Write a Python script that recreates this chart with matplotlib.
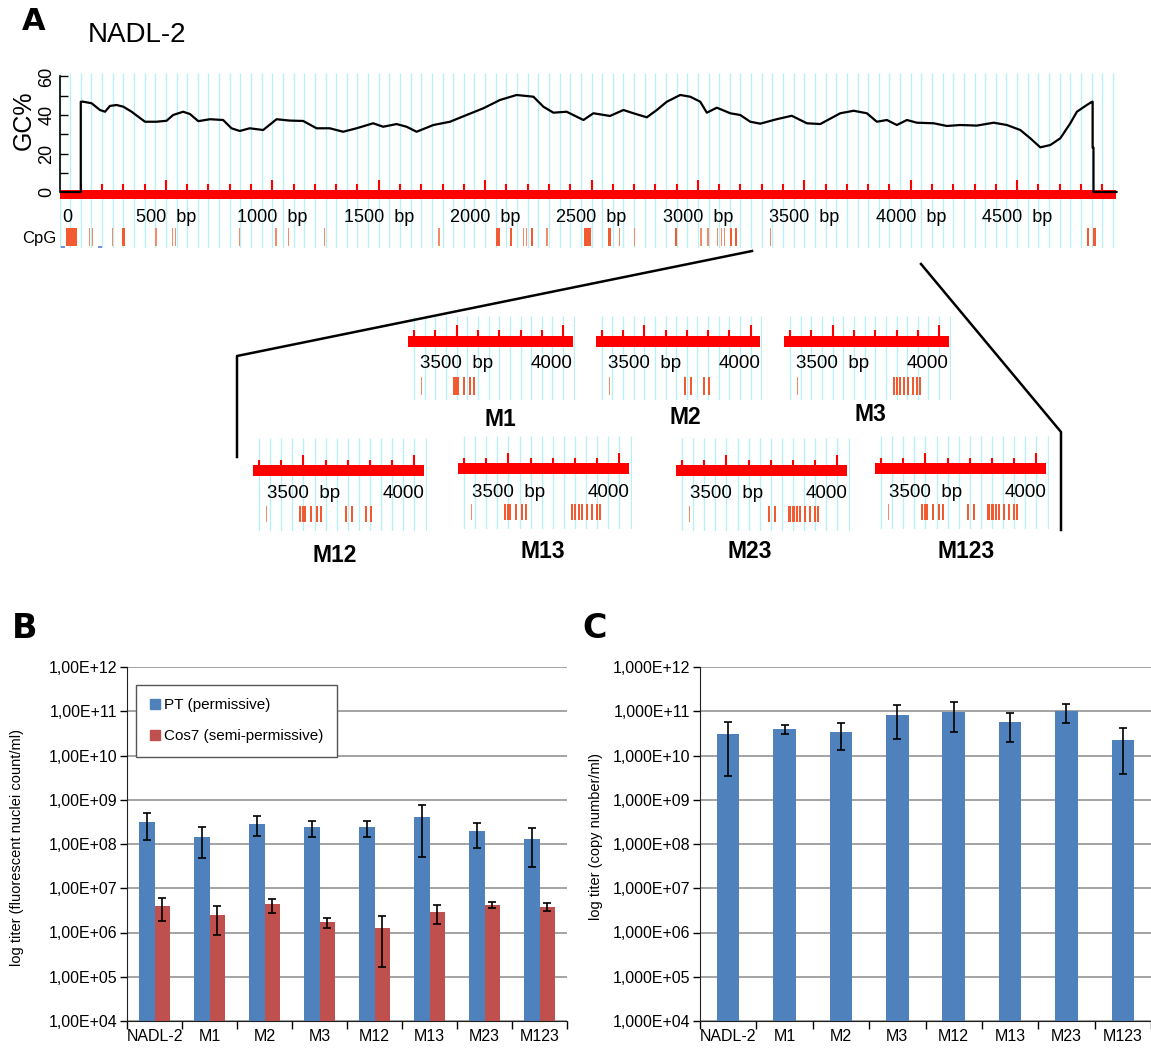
import numpy as np
import matplotlib
matplotlib.use("Agg")
import matplotlib.pyplot as plt
from matplotlib.lines import Line2D
from matplotlib.patches import Rectangle, Patch

plt.rcParams['font.family'] = ['Liberation Sans', 'DejaVu Sans']

W, H = 1151, 1050

# ---------------- panel A : GC content of NADL-2 ----------------
gc_bp = [0, 100, 100, 112, 151, 190, 214, 237, 268, 300,
         339, 370, 402, 456, 503, 534, 581, 613, 652, 707,
         769, 808, 847, 894, 957, 1020, 1082, 1145, 1208, 1270,
         1333, 1396, 1474, 1521, 1584, 1631, 1678, 1757, 1835, 1913,
         1992, 2070, 2148, 2227, 2274, 2321, 2383, 2462, 2509, 2587,
         2650, 2697, 2760, 2807, 2854, 2917, 2964, 3011, 3042, 3089,
         3152, 3199, 3246, 3293, 3370, 3441, 3512, 3575, 3669, 3732,
         3794, 3841, 3888, 3935, 3982, 4029, 4108, 4170, 4233, 4311,
         4390, 4452, 4515, 4562, 4609, 4656, 4703, 4750, 4781, 4821,
         4852, 4855, 4855, 4859, 4859, 4967]
gc_pct = [0, 0, 46.9, 46.9, 46.1, 42.6, 41.7, 44.7, 45.2, 44.3,
          41.7, 39.1, 36.5, 36.5, 37.0, 40.0, 41.7, 40.5, 36.8, 37.8,
          37.4, 33.1, 31.7, 33.1, 32.2, 37.8, 37.1, 36.9, 33.1, 33.1,
          31.3, 33.1, 35.7, 33.9, 35.3, 33.9, 31.3, 34.8, 36.5, 40.0,
          43.5, 47.8, 50.4, 49.5, 44.3, 41.2, 41.7, 37.4, 40.9, 39.5,
          42.6, 40.9, 38.8, 42.6, 46.9, 50.4, 49.5, 46.9, 41.2, 43.8,
          40.9, 40.0, 36.5, 35.5, 37.8, 39.6, 35.7, 35.3, 40.9, 42.2,
          40.9, 36.5, 37.4, 34.8, 37.4, 36.0, 35.7, 34.3, 34.8, 34.5,
          36.0, 34.8, 32.2, 27.9, 23.2, 24.4, 27.9, 35.7, 41.7, 44.7,
          46.9, 46.9, 23.0, 23.0, 0, 0]
genome_len = 4967

# CpG sites (bp) and drawn width (bp)
cpg_pos = [56, 140, 155, 248, 300, 454, 530, 545, 846, 1018, 1075, 1245,
           1783, 2061, 2122, 2180, 2193, 2221, 2292, 2483, 2585, 2632, 2702,
           2898, 3015, 3047, 3094, 3110, 3125, 3156, 3180, 3340, 4833, 4864]
cpg_wid = [52, 6, 6, 7, 11, 7, 6, 6, 7, 7, 7, 7,
           7, 16, 11, 6, 6, 11, 7, 32, 11, 7, 7,
           11, 7, 7, 5, 5, 5, 10, 10, 7, 13, 16]
bp_labels = [500, 1000, 1500, 2000, 2500, 3000, 3500, 4000, 4500]

# mutants: CpG sites inside the 3270-4050 bp window
cpg_wt = [3335]
cpg_m1 = [3486, 3497, 3508, 3533, 3562, 3580]
cpg_m2 = [3692, 3720, 3782, 3806]
cpg_m3 = [3786, 3801, 3817, 3833, 3856, 3878, 3898, 3912]

# ---------------- panels B and C ----------------
strains = ['NADL-2', 'M1', 'M2', 'M3', 'M12', 'M13', 'M23', 'M123']
pt_titer = [3.1e8, 1.44e8, 2.9e8, 2.4e8, 2.4e8, 4.1e8, 1.93e8, 1.3e8]
pt_sd = [1.9e8, 0.95e8, 1.4e8, 0.95e8, 0.95e8, 3.6e8, 1.1e8, 1.0e8]
cos7_titer = [3.9e6, 2.44e6, 4.3e6, 1.7e6, 1.24e6, 2.86e6, 4.27e6, 3.84e6]
cos7_sd = [2.1e6, 1.55e6, 1.5e6, 0.45e6, 1.07e6, 1.3e6, 0.7e6, 0.75e6]
copy_titer = [3.0e10, 3.96e10, 3.4e10, 8.3e10, 9.7e10, 5.6e10, 1.02e11, 2.24e10]
copy_sd = [2.65e10, 0.85e10, 2.1e10, 5.9e10, 6.3e10, 3.6e10, 4.7e10, 1.85e10]
yticks = [1e4, 1e5, 1e6, 1e7, 1e8, 1e9, 1e10, 1e11, 1e12]
b_ytick_labels = ['1,00E+04', '1,00E+05', '1,00E+06', '1,00E+07', '1,00E+08',
                  '1,00E+09', '1,00E+10', '1,00E+11', '1,00E+12']
c_ytick_labels = ['1,000E+04', '1,000E+05', '1,000E+06', '1,000E+07', '1,000E+08',
                  '1,000E+09', '1,000E+10', '1,000E+11', '1,000E+12']

RED = '#ff0000'
CYAN = '#b8f0f5'
CPG_DARK = '#f25a32'
CPG_LIGHT = '#f58a69'
BLUE = '#4f81bd'
BROWN = '#c0504d'

fig = plt.figure(figsize=(W / 100, H / 100), dpi=100)


def px_axes(left, top, width, height):
    return fig.add_axes([left / W, 1 - (top + height) / H, width / W, height / H])


def fig_text(x, y, s, **kw):
    fig.text(x / W, 1 - y / H, s, **kw)


def cpg_color(w):
    return CPG_DARK if w >= 9 else CPG_LIGHT


# ---- main GC track ----
def g(py):
    # pixel row -> GC% units of the main track
    return (192 - py) / 38.5 * 20

scale = 0.2128
ax = px_axes(59.5, 73, 1058, 175)
ax.set_xlim(0, 1058 / scale)
ax.set_ylim(g(248), g(73))
ax.vlines(np.arange(0, 4951, 50), g(248), g(73), color=CYAN, lw=1, zorder=0)
ax.add_patch(Rectangle((0, g(199)), genome_len, g(190) - g(199), color=RED, lw=0, zorder=2))
for t in range(100, 4901, 100):
    top = g(180) if t % 500 == 0 else g(184)
    ax.vlines(t, g(190), top, color=RED, lw=1.5, zorder=2)
ax.plot(gc_bp, gc_pct, color='black', lw=1.6, zorder=4)
ax.text(15, g(217), '0', ha='left', va='center', fontsize=13)
for b in bp_labels:
    ax.text(b, g(217), f'{b}  bp', ha='center', va='center', fontsize=13)
for p, w in zip(cpg_pos, cpg_wid):
    ax.add_patch(Rectangle((p - w / 2, g(246)), w, g(228) - g(246),
                           color=cpg_color(w), lw=0, zorder=3))
ax.hlines([g(247), g(247)], [8, 180], [28, 200], color='#5a78d8', lw=1.2)
for s in ['top', 'right', 'bottom']:
    ax.spines[s].set_visible(False)
ax.spines['left'].set_bounds(0, 60)
ax.spines['left'].set_linewidth(1.2)
ax.set_xticks([])
ax.set_yticks([0, 20, 40, 60])
ax.set_yticklabels(['0', '20', '40', '60'], rotation=90, va='center', fontsize=13)
ax.set_yticks([10, 30, 50], minor=True)
ax.tick_params(axis='y', which='both', direction='in', length=6, width=1, pad=3)

fig_text(22, 22, 'A', fontsize=22, weight='bold', family='DejaVu Sans', va='center')
fig_text(137, 35, 'NADL-2', fontsize=20, ha='center', va='center')
fig_text(24, 120, 'GC%', fontsize=18, rotation=90, ha='center', va='center')
fig_text(22, 238, 'CpG', fontsize=12, ha='left', va='center')

# ---- zoomed mutant tracks ----
def draw_track(pos3500, bar_top, sc, offs, cpgs):
    bp0, bp1 = 3268, 4055
    left = pos3500 - (3500 - bp0) * sc
    y0, y1 = offs['cyan_top'], offs['cyan_bot']
    a = px_axes(left, bar_top + y0, (bp1 - bp0) * sc, y1 - y0)
    a.set_xlim(bp0, bp1)
    a.set_ylim(y1, y0)
    a.axis('off')
    a.vlines(np.arange(3300, 4051, 50), y0, y1, color=CYAN, lw=1, zorder=0)
    a.add_patch(Rectangle((3273, 0), 4045 - 3273, 11, color=RED, lw=0, zorder=2))
    for t in range(3300, 4001, 100):
        top = offs['tall'] if t % 500 == 0 else offs['small']
        a.vlines(t, 0, top, color=RED, lw=1.5, zorder=2)
    a.text(3500, offs['label'], '3500  bp', ha='center', va='center', fontsize=13.5)
    a.text(4045, offs['label'], '4000', ha='right', va='center', fontsize=13.5)
    for p in cpgs:
        w = 6 if p == cpgs[0] else 9
        a.add_patch(Rectangle((p - w / 2, offs['cpg0']), w, offs['cpg1'] - offs['cpg0'],
                              color=cpg_color(w), lw=0, zorder=3))

row1 = dict(cyan_top=-20, tall=-11, small=-6, label=27, cpg0=41, cpg1=59, cyan_bot=64)
row2 = dict(cyan_top=-27, tall=-10, small=-5, label=29, cpg0=41, cpg1=57, cyan_bot=66)

tracks = [
    ('M1', 456.7, 336, scale, row1, cpg_wt + cpg_m1, (500, 420)),
    ('M2', 644.3, 336, scale, row1, cpg_wt + cpg_m2, (685, 418)),
    ('M3', 832.7, 336, scale, row1, cpg_wt + cpg_m3, (870, 414)),
    ('M12', 303.4, 465, 0.222, row2, cpg_wt + cpg_m1 + cpg_m2, (335, 556)),
    ('M13', 508.4, 463, 0.222, row2, cpg_wt + cpg_m1 + cpg_m3, (543, 551)),
    ('M23', 726.4, 465, 0.222, row2, cpg_wt + cpg_m2 + cpg_m3, (750, 551)),
    ('M123', 925.4, 463, 0.222, row2, cpg_wt + cpg_m1 + cpg_m2 + cpg_m3, (966, 551)),
]
for name, p35, btop, sc, offs, cpgs, nxy in tracks:
    draw_track(p35, btop, sc, offs, cpgs)
    fig_text(nxy[0], nxy[1], name, fontsize=16.5, weight='bold', ha='center', va='center')

# connector lines
for xs, ys in [([752, 237, 237], [251, 356, 457]), ([921, 1061, 1061], [264, 432, 530])]:
    fig.add_artist(Line2D(np.array(xs) / W, 1 - np.array(ys) / H, color='black',
                          lw=1.8, transform=fig.transFigure))

# ---------------- bar charts ----------------
def style_bar_axes(a, labels):
    a.set_yscale('log')
    a.set_ylim(1e4, 1e12)
    a.set_xlim(-0.5, 7.5)
    a.set_yticks(yticks)
    a.set_yticklabels(labels, fontsize=11.5)
    a.yaxis.set_minor_locator(matplotlib.ticker.NullLocator())
    a.set_xticks(range(len(strains)))
    a.set_xticklabels(strains, fontsize=11.5)
    a.set_xticks(np.arange(-0.5, 8, 1), minor=True)
    a.tick_params(axis='x', which='major', length=0, pad=6)
    a.tick_params(axis='x', which='minor', length=6, width=1, direction='out')
    a.tick_params(axis='y', length=5, width=1, direction='out', pad=2)
    a.yaxis.grid(True, color='#8a8a8a', lw=1.1)
    a.set_axisbelow(True)
    for s in ['top', 'right']:
        a.spines[s].set_visible(False)
    for s in ['left', 'bottom']:
        a.spines[s].set_color('#222222')

x = np.arange(len(strains))

axb = px_axes(127, 667, 440, 354)
style_bar_axes(axb, b_ytick_labels)
err_kw = dict(ecolor='black', elinewidth=1.2, capsize=3, capthick=1.2)
axb.bar(x - 0.14, pt_titer, 0.28, color=BLUE, yerr=pt_sd, error_kw=err_kw)
axb.bar(x + 0.14, cos7_titer, 0.28, color=BROWN, yerr=cos7_sd, error_kw=err_kw)
axb.set_ylabel('log titer (fluorescent nuclei count/ml)', fontsize=10.5)
axb.yaxis.set_label_coords(-0.235, 0.49)
leg = axb.legend(handles=[Patch(color=BLUE, label='PT (permissive)'),
                          Patch(color=BROWN, label='Cos7 (semi-permissive)')],
                 loc='upper left', bbox_to_anchor=(0.003, 0.972), fontsize=11,
                 handlelength=0.65, handleheight=0.65, handletextpad=0.3,
                 labelspacing=1.1, borderpad=0.9, fancybox=False, framealpha=1,
                 edgecolor='#555555')
leg.get_frame().set_linewidth(1)

axc = px_axes(700, 667, 451, 354)
style_bar_axes(axc, c_ytick_labels)
axc.bar(x, copy_titer, 0.4, color=BLUE, yerr=copy_sd, error_kw=err_kw)
axc.set_ylabel('log titer (copy number/ml)', fontsize=10.5)
axc.yaxis.set_label_coords(-0.215, 0.52)

fig_text(12, 628, 'B', fontsize=24, weight='bold', family='DejaVu Sans', va='center')
fig_text(582, 628, 'C', fontsize=24, weight='bold', family='DejaVu Sans', va='center')

fig.savefig('out.png', dpi=100)
